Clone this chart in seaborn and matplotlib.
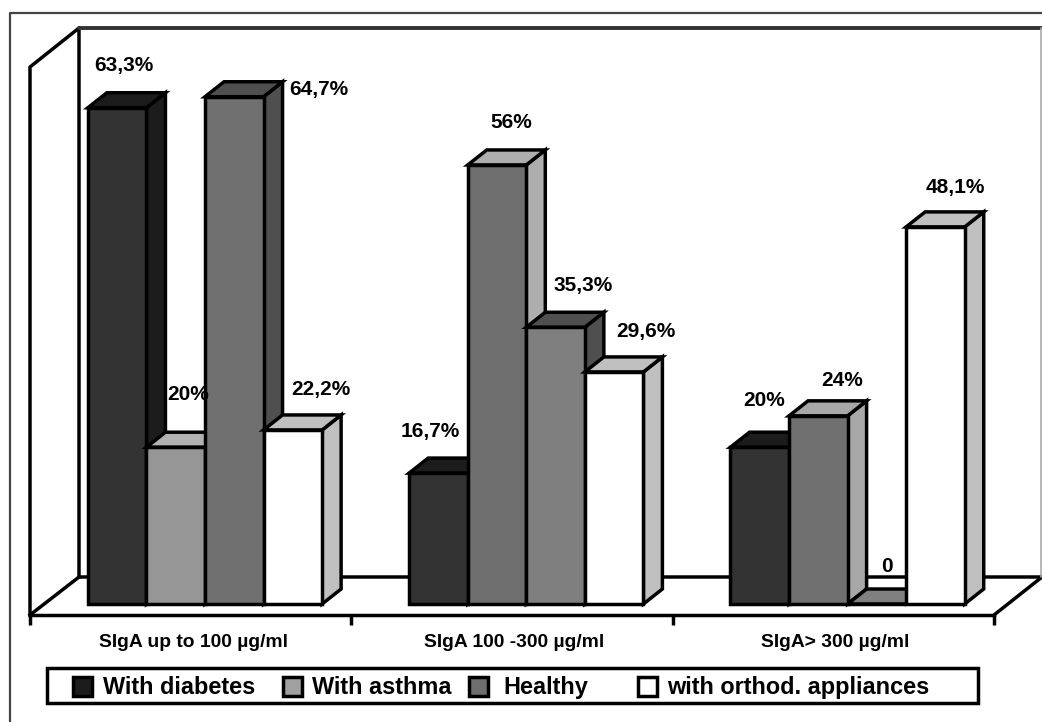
import matplotlib
matplotlib.use("Agg")
import matplotlib.pyplot as plt
from matplotlib.lines import Line2D
from matplotlib.patches import Polygon, Rectangle
from matplotlib.transforms import Affine2D
import pandas as pd
import seaborn as sns

groups = ["SIgA up to 100 µg/ml", "SIgA 100 -300 µg/ml", "SIgA> 300 µg/ml"]
series = ["With diabetes", "With asthma", "Healthy", "with orthod. appliances"]
diabetes = [63.3, 16.7, 20]
asthma = [20, 56, 24]
healthy = [64.7, 35.3, 0]
orthod = [22.2, 29.6, 48.1]
value_labels = [
    ["63,3%", "16,7%", "20%"],
    ["20%", "56%", "24%"],
    ["64,7%", "35,3%", "0"],
    ["22,2%", "29,6%", "48,1%"],
]

W, H = 1042, 722
LW = 2.5
FONT = "Liberation Sans"

# the old chart shades some bars differently from their legend swatch
front = [
    ["#333333", "#333333", "#333333"],
    ["#969696", "#6e6e6e", "#707070"],
    ["#707070", "#7f7f7f", "#808080"],
    ["#ffffff", "#ffffff", "#ffffff"],
]
shade = [
    ["#1c1c1c", "#1c1c1c", "#1c1c1c"],
    ["#b2b2b2", "#aeaeae", "#a8a8a8"],
    ["#4f4f4f", "#4f4f4f", "#808080"],
    ["#c0c0c0", "#c0c0c0", "#c0c0c0"],
]
swatches = ["#1c1c1c", "#a0a0a0", "#6e6e6e", "#ffffff"]

label_pos = [
    [(124, 66), (430, 432), (764, 401)],
    [(188, 394), (511, 122), (842, 380)],
    [(319, 89), (583, 285), (887, 566)],
    [(321, 389), (646, 331), (955, 188)],
]

df = pd.DataFrame({"group": groups, series[0]: diabetes, series[1]: asthma,
                   series[2]: healthy, series[3]: orthod})
df = df.melt(id_vars="group", var_name="series", value_name="value")

sns.set_theme(style="white")
plt.rcParams["font.family"] = [FONT, "DejaVu Sans"]

fig = plt.figure(figsize=(W / 100, H / 100), dpi=100)
px = Affine2D().scale(1 / W, -1 / H).translate(0, 1) + fig.transFigure

# axes box = front edge of the floor
ax = fig.add_axes([30 / W, 1 - 615 / H, (994 - 30) / W, (615 - 28) / H])
ax.patch.set_alpha(0)
sns.barplot(data=df, x="group", y="value", hue="series", hue_order=series, order=groups,
            palette=dict(zip(series, swatches)), width=0.729, gap=0, errorbar=None,
            edgecolor="black", linewidth=LW, legend=False, ax=ax)

PX_PER_UNIT = 7.84
PX_PER_GROUP = 321.3
ax.set_xlim((30 - 205) / PX_PER_GROUP, (994 - 205) / PX_PER_GROUP)
ax.set_ylim(-(615 - 604) / PX_PER_UNIT, (604 - 28) / PX_PER_UNIT)
ax.set_xlabel("")
ax.set_ylabel("")
ax.set_yticks([])
for side in ["top", "left", "right"]:
    ax.spines[side].set_visible(False)
ax.spines["bottom"].set_linewidth(LW)
ax.spines["bottom"].set_color("black")

# ticks on group borders, names a bit left of the bars like the original
ax.set_xticks([(30 + i * PX_PER_GROUP - 205) / PX_PER_GROUP for i in range(4)])
ax.set_xticklabels([])
ax.tick_params(axis="x", which="major", bottom=True, length=7, width=LW, color="black")
ax.set_xticks([i - 12 / PX_PER_GROUP for i in range(3)], minor=True)
ax.set_xticklabels(groups, minor=True, fontsize=13.9, fontweight="bold", color="black")
ax.tick_params(axis="x", which="minor", bottom=False, length=0, pad=14)

# walls and floor
wall = dict(transform=px, color="black", lw=LW, solid_capstyle="projecting", zorder=1, clip_on=False)
ax.add_line(Line2D([30, 30, 79, 79], [615, 67, 28, 577], **wall))
ax.add_line(Line2D([30, 79, 1042], [615, 577, 577], **wall))
ax.add_line(Line2D([994, 1042], [615, 577], **wall))
ax.add_line(Line2D([79, 1042], [28, 28], transform=px, color="#333333", lw=2.8, zorder=1, clip_on=False))
ax.add_line(Line2D([1041, 1041], [28, 577], transform=px, color="#aaaaaa", lw=1.2, zorder=1, clip_on=False))

# outer picture frame
ax.add_line(Line2D([10, 10, 1042], [722, 13, 13], transform=px, color="#444444", lw=1.6, zorder=1, clip_on=False))

# depth faces, built on the bars seaborn drew
dx = 19 / PX_PER_GROUP
dy = 15 / PX_PER_UNIT
for g in range(len(groups)):
    for s in range(len(series)):
        bar = ax.containers[s][g]
        x0, x1 = bar.get_x(), bar.get_x() + bar.get_width()
        y = bar.get_height()
        z = 3 + s
        bar.set_facecolor(front[s][g])
        bar.set_zorder(z + 0.2)
        bar.set_clip_on(False)
        faces = [
            [(x1, 0), (x1 + dx, dy), (x1 + dx, y + dy), (x1, y)],
            [(x0, y), (x0 + dx, y + dy), (x1 + dx, y + dy), (x1, y)],
        ]
        for pts in faces:
            ax.add_patch(Polygon(pts, closed=True, facecolor=shade[s][g], edgecolor="black",
                                 lw=LW, joinstyle="miter", zorder=z, clip_on=False))
        lx, ly = label_pos[s][g]
        ax.text(lx, ly, value_labels[s][g], transform=px, ha="center", va="center",
                fontsize=15, fontweight="bold", color="black", zorder=20)

# legend strip
ax.add_patch(Rectangle((47, 668), 931, 35, transform=px, facecolor="white", edgecolor="black",
                       lw=LW, zorder=10, clip_on=False))
swatch_x = [73, 283, 469, 638]
text_x = [103, 312, 503, 667]
for s, name in enumerate(series):
    ax.add_patch(Rectangle((swatch_x[s], 677), 19, 19, transform=px, facecolor=swatches[s],
                           edgecolor="black", lw=LW, zorder=11, clip_on=False))
    ax.text(text_x[s], 694, name, transform=px, ha="left", va="baseline", fontsize=16.9,
            fontweight="bold", color="black", zorder=11)

fig.savefig("out.png", dpi=100, facecolor="white")
plt.close(fig)
